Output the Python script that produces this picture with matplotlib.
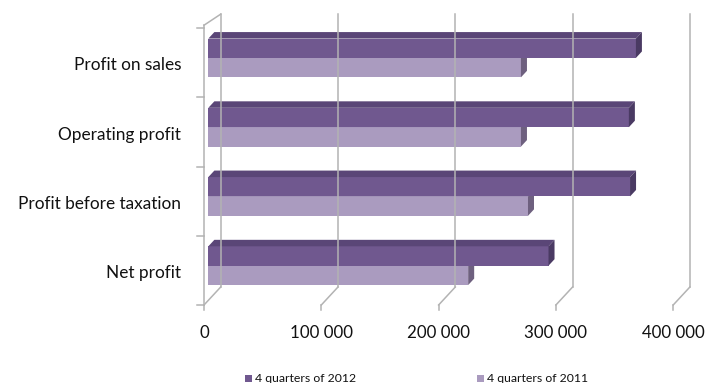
import numpy as np
import matplotlib.pyplot as plt
from matplotlib.patches import Polygon

plt.rcParams['font.family'] = ['Lato', 'DejaVu Sans']

categories = ['Net profit', 'Profit before taxation', 'Operating profit', 'Profit on sales']
sales_2012 = [290000, 359500, 358500, 364500]
sales_2011 = [221500, 272500, 266500, 266500]
series_names = ['4 quarters of 2012', '4 quarters of 2011']
xticks = [0, 100000, 200000, 300000, 400000]
xtick_labels = ['0', '100 000', '200 000', '300 000', '400 000']

c12 = ('#70588f', '#5a4677', '#4a3a63')   # front, top, side
c11 = ('#aa9bbf', '#9a8bb0', '#6e607f')
grid_c = '#b3b3b3'

# pixel scale of the front plane
px_per_val = 117.3 / 100000
px_per_cat = 69.25
x0_px, y0_px = 204, 305
W, H = 705, 383

# depth offset (whole depth of the box) in data units
DX = 16.7 / px_per_val
DY = 18 / px_per_cat
d0, d1 = 0.26, 0.62
top_back = 4.2

fig = plt.figure(figsize=(W / 100, H / 100), dpi=100)
ax = fig.add_axes([0, 0, 1, 1])
ax.set_xlim(-x0_px / px_per_val, (W - x0_px) / px_per_val)
ax.set_ylim((y0_px - H) / px_per_cat, y0_px / px_per_cat)
ax.axis('off')

# walls / gridlines
lw = 1.1
for v in xticks:
    ax.plot([v, v + DX], [0, DY], color=grid_c, lw=lw)
    ax.plot([v + DX, v + DX], [DY, top_back], color=grid_c, lw=lw)
    ax.plot([v, v], [0, -5 / px_per_cat], color=grid_c, lw=lw)
ax.plot([0, 0], [0, 4.04], color=grid_c, lw=lw)
ax.plot([0, DX], [4.04, top_back], color=grid_c, lw=lw)
for i in range(len(categories) + 1):
    ax.plot([-7 / px_per_val, 0], [i, i], color=grid_c, lw=lw)


def bar3d(val, ylo, yhi, cols):
    front, top, side = cols
    a, b = d0 * DX, d1 * DX
    p, q = d0 * DY, d1 * DY
    ax.add_patch(Polygon([(a, ylo + p), (val + a, ylo + p), (val + a, yhi + p), (a, yhi + p)],
                         closed=True, fc=front, ec='none'))
    ax.add_patch(Polygon([(a, yhi + p), (val + a, yhi + p), (val + b, yhi + q), (b, yhi + q)],
                         closed=True, fc=top, ec='none'))
    ax.add_patch(Polygon([(val + a, ylo + p), (val + b, ylo + q), (val + b, yhi + q), (val + a, yhi + p)],
                         closed=True, fc=side, ec='none'))


h = 0.28
for i, cat in enumerate(categories):
    bar3d(sales_2011[i], i + 0.5 - h, i + 0.5, c11)
    bar3d(sales_2012[i], i + 0.5, i + 0.5 + h, c12)
    ax.text(-23 / px_per_val, i + 0.46, cat, ha='right', va='center', fontsize=12.4, color='#111111')

for v, lab in zip(xticks, xtick_labels):
    ax.text(v, -28 / px_per_cat, lab, ha='center', va='center', fontsize=12.2, color='#111111')

# legend
leg_y = -73 / px_per_cat
for k, (name, col) in enumerate(zip(series_names, [c12[0], c11[0]])):
    lx = (245 + k * 232 - x0_px) / px_per_val
    ax.add_patch(Polygon([(lx, leg_y - 3.5 / px_per_cat), (lx + 7 / px_per_val, leg_y - 3.5 / px_per_cat),
                          (lx + 7 / px_per_val, leg_y + 3.5 / px_per_cat), (lx, leg_y + 3.5 / px_per_cat)],
                         closed=True, fc=col, ec='none'))
    ax.text(lx + 10 / px_per_val, leg_y, name, ha='left', va='center', fontsize=8.8, color='#111111')

fig.savefig('out.png', dpi=100)
